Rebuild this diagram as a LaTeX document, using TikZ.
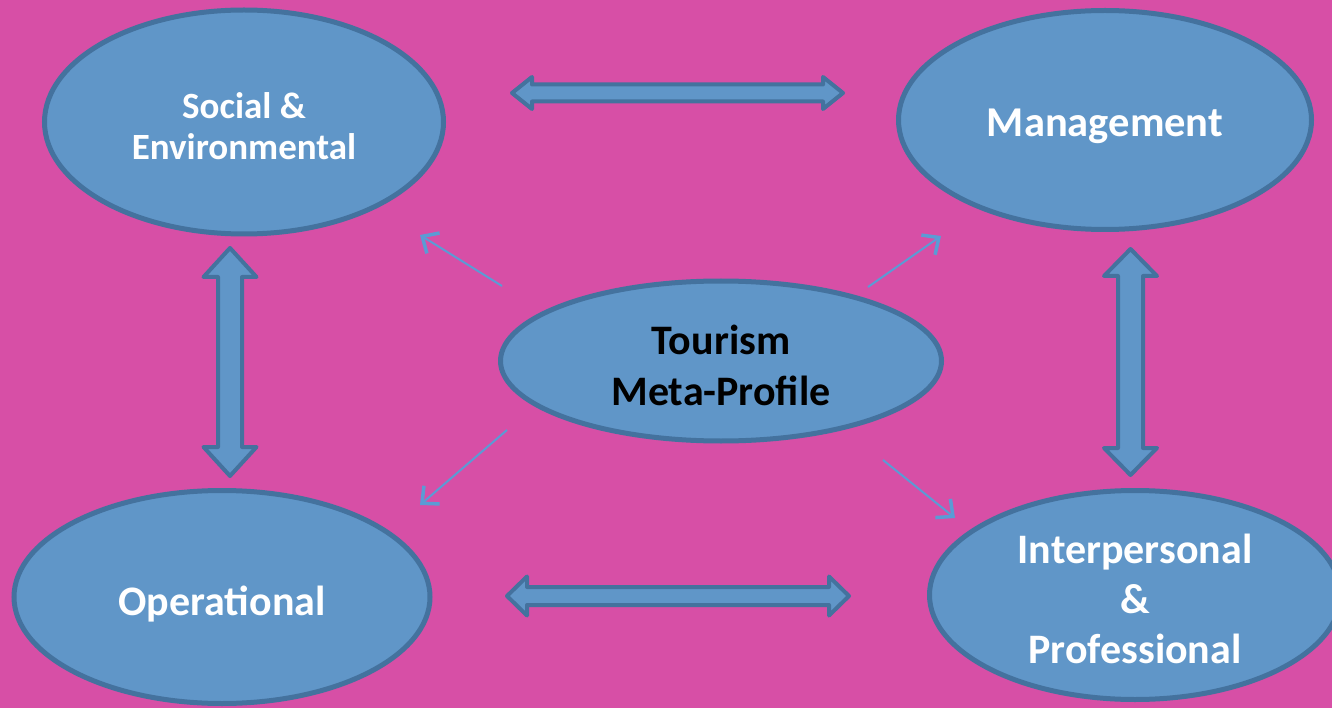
\documentclass[tikz,border=0pt]{standalone}
\usepackage{fontspec}
\setmainfont{Carlito}
\usetikzlibrary{shapes.geometric,arrows.meta}
\definecolor{bgmag}{HTML}{D74FA6}
\definecolor{ellfill}{HTML}{6096C8}
\definecolor{elldraw}{HTML}{44729E}
\definecolor{thinblue}{HTML}{5B9BD5}
\tikzset{
  oval/.style={ellipse, draw=elldraw, fill=ellfill, line width=5pt, inner sep=0pt},
  ovaltext/.style={text=white, align=center, inner sep=0pt,
    font=\bfseries\fontsize{42}{50}\selectfont},
  dblarrow/.style={draw=elldraw, fill=ellfill, line width=4pt, line join=round},
  thinarrow/.style={draw=thinblue, line width=2pt,
    -{Straight Barb[length=13pt,width=24pt,line width=3.5pt]}},
}
\newcommand{\harrow}[6]{% x1, x2, y, shaft half, head half, head length
  \path[dblarrow] (#1,#3) -- (#1+#6,#3-#5) -- (#1+#6,#3-#4) -- (#2-#6,#3-#4)
    -- (#2-#6,#3-#5) -- (#2,#3) -- (#2-#6,#3+#5) -- (#2-#6,#3+#4)
    -- (#1+#6,#3+#4) -- (#1+#6,#3+#5) -- cycle;}
\newcommand{\varrow}[6]{% y1, y2, x, shaft half, head half, head length
  \path[dblarrow] (#3,#1) -- (#3-#5,#1+#6) -- (#3-#4,#1+#6) -- (#3-#4,#2-#6)
    -- (#3-#5,#2-#6) -- (#3,#2) -- (#3+#5,#2-#6) -- (#3+#4,#2-#6)
    -- (#3+#4,#1+#6) -- (#3+#5,#1+#6) -- cycle;}
\begin{document}
\begin{tikzpicture}[x=1pt,y=-1pt]
  \useasboundingbox (0,0) rectangle (1332,708);
  \fill[bgmag] (0,0) rectangle (1332,708);
  \begin{scope}
  \clip (0,0) rectangle (1332,708);
  % ellipses
  \node[oval, minimum width=399pt, minimum height=224pt] (soc) at (244,122) {};
  \node[oval, minimum width=413pt, minimum height=219pt] (man) at (1105,120) {};
  \node[oval, minimum width=441pt, minimum height=160pt] (tou) at (721,361) {};
  \node[oval, minimum width=416pt, minimum height=213pt] (ope) at (222,597) {};
  \node[oval, minimum width=411pt, minimum height=209pt] (int) at (1135,595) {};
  \end{scope}
  % texts
  \node[ovaltext, font=\bfseries\fontsize{37}{41}\selectfont]
    (soct) at ([yshift=-4pt]soc.center) {Social \&\\Environmental};
  \node[ovaltext, font=\bfseries\fontsize{42.5}{50}\selectfont]
    (mant) at ([yshift=-6pt]man.center) {Management};
  \node[ovaltext, text=black, font=\bfseries\fontsize{42}{51}\selectfont]
    (tout) at ([yshift=-4pt]tou.center) {Tourism\\Meta-Profile};
  \node[ovaltext] (opet) at ([yshift=-7pt]ope.center) {Operational};
  \node[ovaltext] (intt) at ([yshift=-4pt]int.center) {Interpersonal\\\&\\Professional};
  % double arrows
  \harrow{512}{843}{93}{8.5}{16}{20}
  \harrow{507}{849}{596}{9}{19.5}{20}
  \varrow{248}{476}{230}{12}{26.5}{29}
  \varrow{249}{475}{1130.5}{12.5}{26.5}{27}
  % thin arrows
  \coordinate (nws) at (502,286); \coordinate (nwe) at (420,235);
  \coordinate (nes) at (868,287); \coordinate (nee) at (941,236);
  \coordinate (sws) at (507,430); \coordinate (swe) at (420,505);
  \coordinate (ses) at (883,460); \coordinate (see) at (955,518);
  \draw[thinarrow] (nws) -- (nwe);
  \draw[thinarrow] (nes) -- (nee);
  \draw[thinarrow] (sws) -- (swe);
  \draw[thinarrow] (ses) -- (see);
\end{tikzpicture}
\end{document}
